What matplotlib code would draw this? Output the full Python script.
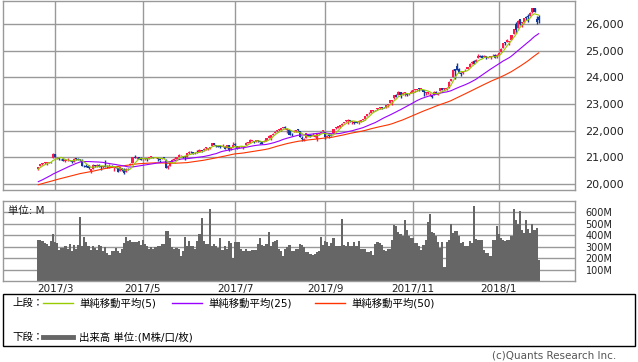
import matplotlib
matplotlib.use("Agg")
import matplotlib.pyplot as plt
from matplotlib.lines import Line2D
from matplotlib.patches import Rectangle
import numpy as np
import pandas as pd

plt.rcParams['font.family'] = ['DejaVu Sans', 'Noto Sans CJK JP']

# closes before the first shown day (Dec 5 2016 - Feb 16 2017), only for the moving averages
pre_closes = [
    19216, 19252, 19549, 19615, 19757, 19797, 19912, 19792, 19852, 19843,
    19884, 19975, 19942, 19919, 19934, 19946, 19833, 19819, 19763,
    19882, 19942, 19900, 19964, 19887, 19855, 19954, 19891, 19886, 19826,
    19804, 19732, 19827, 19799, 19913, 20069, 20101, 20094, 19971, 19864,
    19891, 19885, 20071, 20052, 20090, 20054, 20172, 20269, 20413, 20504,
    20612, 20619,
]

# daily OHLC, 2017-02-17 .. 2018-01-31 (one line per month)
opens = [
    20564, 20662, 20749, 20786, 20778, 20790, 20834,
    20957, 21114, 20999, 20962, 20946, 20936, 20853, 20888, 20897, 20858, 20842, 20963, 20934, 20919, 20913, 20668, 20673, 20669, 20485, 20555, 20697, 20663, 20713,
    20665, 20631, 20681, 20667, 20618, 20665, 20620, 20650, 20590, 20480, 20611, 20547, 20455, 20579, 20725, 20801, 20990, 20968, 20995,
    20962, 20923, 20931, 20962, 20966, 21008, 21003, 20970, 20992, 20913, 20934, 20995, 20908, 20596, 20681, 20814, 20908, 20941, 21018, 21074, 21049, 21020,
    21030, 21147, 21212, 21182, 21151, 21192, 21190, 21258, 21262, 21346, 21311, 21356, 21412, 21522, 21467, 21413, 21416, 21401, 21403, 21340, 21448, 21308,
    21392, 21481, 21437, 21334, 21413, 21398, 21460, 21532, 21544, 21629, 21591, 21582, 21654, 21585, 21577, 21580, 21628, 21730, 21717, 21843,
    21923, 21988, 22019, 22027, 22101, 22121, 22028, 22023, 21875, 21947, 21995, 22032, 21992, 21730, 21667, 21727, 21843, 21824, 21809, 21767, 21704, 21864, 21907,
    21981, 21961, 21774, 21825, 21813, 21916, 22082, 22118, 22136, 22209, 22280, 22355, 22359, 22389, 22337, 22319, 22310, 22319, 22340, 22392,
    22423, 22564, 22644, 22672, 22742, 22773, 22797, 22837, 22864, 22883, 22866, 22977, 23040, 23095, 23226, 23328, 23355, 23436, 23380, 23413, 23385, 23361,
    23421, 23428, 23530, 23543, 23567, 23556, 23514, 23406, 23401, 23397, 23348, 23338, 23454, 23353, 23475, 23590, 23555, 23560, 23600, 23850, 24010,
    24305, 24424, 24324, 24150, 24149, 24300, 24329, 24403, 24520, 24608, 24557, 24708, 24811, 24809, 24743, 24772, 24727, 24753, 24822, 24849,
    24809, 24850, 24964, 25114, 25308, 25312, 25309, 25405, 25638, 25987, 25850, 26181, 26019, 26074, 26264, 26271, 26295, 26438, 26584, 26198, 26268,
]
highs = [
    20624, 20758, 20801, 20841, 20822, 20838, 20837,
    21169, 21113, 21025, 20980, 20956, 20958, 20907, 20966, 20918, 20863, 20981, 20985, 20957, 20935, 20944, 20706, 20747, 20720, 20573, 20757, 20731, 20734, 20732,
    20689, 20689, 20887, 20728, 20750, 20730, 20651, 20652, 20617, 20636, 20611, 20592, 20605, 20584, 20790, 21006, 21070, 21008, 20995,
    20994, 20950, 20965, 20978, 21007, 21054, 21003, 21012, 20992, 20913, 20982, 21022, 20921, 20724, 20849, 20941, 20975, 21012, 21112, 21098, 21049, 21035,
    21144, 21225, 21225, 21182, 21188, 21265, 21305, 21276, 21337, 21391, 21360, 21385, 21535, 21526, 21467, 21440, 21434, 21489, 21434, 21460, 21455, 21393,
    21562, 21520, 21437, 21423, 21436, 21415, 21581, 21583, 21681, 21645, 21594, 21641, 21655, 21585, 21597, 21653, 21711, 21843, 21830, 21925,
    21990, 22036, 22045, 22093, 22121, 22180, 22053, 22023, 21916, 22007, 22011, 22077, 21992, 21807, 21727, 21910, 21858, 21884, 21900, 21849, 21873, 21927, 21955,
    22024, 21961, 21840, 21829, 21869, 22066, 22123, 22170, 22206, 22271, 22338, 22382, 22419, 22396, 22365, 22358, 22339, 22398, 22381, 22414,
    22557, 22641, 22686, 22777, 22776, 22793, 22858, 22872, 22878, 22905, 22961, 22997, 23158, 23164, 23329, 23368, 23485, 23436, 23439, 23451, 23412, 23401,
    23517, 23531, 23539, 23562, 23602, 23570, 23514, 23465, 23450, 23421, 23348, 23472, 23472, 23440, 23617, 23604, 23602, 23638, 23875, 23940, 24328,
    24305, 24534, 24367, 24198, 24245, 24330, 24388, 24552, 24622, 24649, 24691, 24876, 24839, 24852, 24850, 24785, 24778, 24798, 24876, 24871,
    24864, 24942, 25106, 25296, 25311, 25436, 25369, 25575, 25804, 26086, 26154, 26153, 26076, 26215, 26298, 26392, 26458, 26617, 26609, 26286, 26338,
]
lows = [
    20532, 20662, 20720, 20753, 20728, 20771, 20785,
    20957, 21002, 20951, 20905, 20900, 20855, 20834, 20880, 20853, 20785, 20837, 20918, 20914, 20879, 20659, 20622, 20645, 20580, 20413, 20555, 20645, 20654, 20645,
    20514, 20598, 20633, 20617, 20618, 20640, 20506, 20590, 20453, 20480, 20486, 20379, 20455, 20511, 20725, 20801, 20975, 20935, 20941,
    20884, 20898, 20904, 20862, 20951, 20979, 20957, 20958, 20852, 20839, 20922, 20958, 20606, 20553, 20681, 20814, 20884, 20919, 21018, 21048, 20979, 20898,
    21027, 21124, 21174, 21120, 21119, 21163, 21190, 21206, 21240, 21293, 21256, 21326, 21412, 21466, 21373, 21379, 21340, 21390, 21294, 21332, 21236, 21293,
    21392, 21422, 21305, 21334, 21385, 21305, 21460, 21525, 21544, 21608, 21537, 21582, 21567, 21515, 21510, 21580, 21628, 21715, 21663, 21843,
    21923, 21942, 21984, 22003, 22085, 22080, 21902, 21844, 21807, 21947, 21940, 21997, 21750, 21600, 21601, 21727, 21791, 21769, 21796, 21767, 21614, 21825, 21894,
    21948, 21696, 21774, 21720, 21785, 21916, 22059, 22109, 22113, 22167, 22280, 22338, 22253, 22340, 22268, 22261, 22270, 22268, 22316, 22371,
    22405, 22564, 22627, 22672, 22707, 22751, 22785, 22809, 22812, 22845, 22863, 22902, 23040, 22956, 23181, 23258, 23355, 23222, 23346, 23289, 23315, 23346,
    23421, 23428, 23463, 23505, 23505, 23506, 23297, 23342, 23393, 23290, 23243, 23338, 23358, 23353, 23475, 23525, 23537, 23535, 23589, 23850, 24010,
    23921, 24256, 24178, 24047, 24116, 24249, 24299, 24403, 24501, 24508, 24557, 24708, 24751, 24713, 24743, 24703, 24717, 24702, 24781, 24719,
    24742, 24825, 24963, 25113, 25205, 25311, 25198, 25405, 25638, 25657, 25850, 25943, 25881, 26034, 26140, 26091, 26295, 26423, 26435, 25997, 26034,
]
closes = [
    20624, 20743, 20775, 20810, 20821, 20837, 20812,
    21115, 21002, 21005, 20954, 20924, 20855, 20858, 20902, 20881, 20837, 20950, 20934, 20914, 20905, 20668, 20661, 20656, 20597, 20550, 20701, 20659, 20728, 20663,
    20650, 20689, 20648, 20662, 20656, 20658, 20651, 20591, 20453, 20636, 20523, 20404, 20578, 20548, 20763, 20996, 20975, 20981, 20941,
    20913, 20950, 20957, 20951, 21007, 21013, 20975, 21012, 20919, 20896, 20982, 20980, 20607, 20663, 20805, 20895, 20937, 21012, 21083, 21080, 21029, 21009,
    21144, 21206, 21184, 21136, 21174, 21182, 21272, 21236, 21329, 21375, 21360, 21384, 21528, 21468, 21410, 21397, 21395, 21409, 21311, 21454, 21288, 21350,
    21479, 21478, 21320, 21414, 21409, 21409, 21532, 21553, 21638, 21630, 21574, 21641, 21611, 21580, 21513, 21613, 21711, 21797, 21830, 21891,
    21963, 22016, 22026, 22093, 22118, 22085, 22049, 21844, 21858, 21993, 21998, 22025, 21750, 21675, 21704, 21899, 21812, 21783, 21814, 21809, 21865, 21892, 21948,
    21988, 21753, 21807, 21784, 21798, 22057, 22119, 22158, 22203, 22268, 22332, 22370, 22412, 22359, 22350, 22296, 22284, 22341, 22381, 22405,
    22557, 22641, 22661, 22775, 22773, 22761, 22831, 22872, 22841, 22871, 22957, 22997, 23158, 23163, 23329, 23273, 23441, 23329, 23401, 23434, 23349, 23377,
    23436, 23517, 23539, 23548, 23557, 23563, 23461, 23422, 23440, 23409, 23272, 23458, 23358, 23430, 23590, 23526, 23558, 23580, 23836, 23940, 24272,
    24231, 24290, 24180, 24140, 24211, 24329, 24387, 24504, 24585, 24509, 24652, 24792, 24754, 24726, 24782, 24754, 24746, 24775, 24838, 24719,
    24824, 24922, 25075, 25295, 25283, 25385, 25369, 25574, 25803, 25792, 26116, 26017, 26071, 26214, 26211, 26252, 26393, 26617, 26439, 26076, 26149,
]

# volume in millions
volumes = [
    355, 355, 347, 332, 323, 309, 347, 409, 338, 332,
    274, 288, 288, 303, 279, 324, 259, 318, 279, 318,
    559, 303, 382, 338, 309, 274, 303, 288, 274, 318,
    303, 259, 297, 244, 229, 265, 259, 288, 259, 244,
    279, 332, 385, 347, 362, 338, 338, 338,
    347, 318, 355, 326, 303, 279, 294, 279, 294, 303,
    303, 326, 326, 441, 441, 376, 297, 279, 288, 279,
    220, 259, 385, 303, 347, 303, 303, 279, 347, 412,
    547, 347, 326, 326, 626, 303, 326, 303, 288, 376,
    274, 303, 279, 353, 332, 200, 338, 338, 338,
    279, 259, 279, 259, 259, 268, 268, 274, 324, 376,
    318, 303, 324, 426, 303, 341, 347, 356, 279, 265,
    220, 279, 294, 318, 259, 259, 279, 279, 326, 318,
    294, 253, 253, 238, 229, 238, 253, 259, 385, 318,
    347, 341, 303, 332, 376, 309, 303, 303,
    544, 318, 303, 341, 303, 303, 341, 303, 350, 279,
    279, 279, 250, 250, 259, 229, 326, 338, 332, 318,
    274, 259, 279, 279, 362, 494, 479, 426, 412, 391,
    538, 450, 391, 376, 376, 332, 332, 309, 274, 318,
    362, 515, 582, 426, 420, 397, 338, 288,
    338, 125, 338, 362, 503, 420, 435, 441, 391, 332,
    338, 309, 309, 353, 332, 656, 371, 356, 356, 356,
    274, 244, 244, 220, 356, 362, 479, 412, 376, 362,
    347, 362, 362, 391, 626, 538, 503, 612, 450, 420,
    538, 456, 420, 503, 444, 465, 180,
]

holidays = ["2017-04-14", "2017-05-29", "2017-07-04", "2017-09-04",
            "2017-11-23", "2017-12-25", "2018-01-01", "2018-01-15"]
dates = pd.bdate_range("2017-02-17", "2018-01-31", freq="C", holidays=holidays)
tick_months = [(2017, 3), (2017, 5), (2017, 7), (2017, 9), (2017, 11), (2018, 1)]

RED = "#ff1a4d"
BLUE = "#13399c"
C_MA5 = "#99cc00"
C_MA25 = "#9900ff"
C_MA50 = "#ff3300"
GRID = "#999999"

n = len(closes)
x = np.arange(n)
o = np.array(opens)
h = np.array(highs)
l = np.array(lows)
c = np.array(closes)

allc = pd.Series(pre_closes + closes, dtype=float)
ma5 = allc.rolling(5).mean().values[-n:]
ma25 = allc.rolling(25).mean().values[-n:]
ma50 = allc.rolling(50).mean().values[-n:]

ticks = []
labels = []
for yy, mm in tick_months:
    idx = np.where((dates.year == yy) & (dates.month == mm))[0][0]
    ticks.append(idx)
    labels.append(f"{yy}/{mm}")

W, H = 638, 362
fig = plt.figure(figsize=(W / 100, H / 100), dpi=100)


def box(x0, y0, x1, y1):
    return [x0 / W, 1 - y1 / H, (x1 - x0) / W, (y1 - y0) / H]


ax = fig.add_axes(box(3.3, 0.5, 574.5, 190))
axv = fig.add_axes(box(3.3, 201, 574.5, 281))

# price panel
up = c >= o
col = np.where(up, RED, BLUE)
ax.vlines(x, l, h, colors=col, lw=1.0, zorder=3)
body = np.maximum(np.abs(c - o), 30)
ax.bar(x, body, bottom=np.minimum(o, c), width=1.0, color=col, lw=0, zorder=3)
ax.plot(x, ma50, color=C_MA50, lw=0.8, zorder=4)
ax.plot(x, ma25, color=C_MA25, lw=0.8, zorder=4)
ax.plot(x, ma5, color=C_MA5, lw=0.8, zorder=5)

for a in (ax, axv):
    a.set_xlim(-16.7, 256.1)
    a.set_xticks(ticks)
    a.grid(True, color=GRID, lw=1)
    a.set_axisbelow(True)
    for s in a.spines.values():
        s.set_color(GRID)
        s.set_linewidth(1)
    a.yaxis.tick_right()
    a.tick_params(length=0, colors="#222222")

ax.set_ylim(19775, 26880)
ax.set_yticks(range(20000, 26001, 1000))
ax.set_yticklabels([f"{v:,}" for v in range(20000, 26001, 1000)], fontsize=8)
ax.tick_params(axis="y", pad=8)
ax.set_xticklabels([])

# volume panel
axv.bar(x, volumes, width=1.0, color="#666666", lw=0)
axv.set_ylim(0, 700)
axv.set_yticks(range(100, 601, 100))
axv.set_yticklabels([f"{v}M" for v in range(100, 601, 100)], fontsize=7)
axv.tick_params(axis="y", pad=8)
axv.set_xticklabels(labels, fontsize=7.5)
axv.tick_params(axis="x", pad=2)
axv.text(5 / 572, 0.88, "単位: M", transform=axv.transAxes, fontsize=7.5,
         ha="left", va="center", color="#222222")

# legend box
fig.patches.append(Rectangle((3 / W, 1 - 346 / H), 632 / W, 52 / H,
                             transform=fig.transFigure, fill=False,
                             ec="black", lw=1))


def fy(py):
    return 1 - py / H


legend_rows = [
    (303, "上段：", [(43, C_MA5, 1, "単純移動平均(5)"),
                   (172, C_MA25, 1, "単純移動平均(25)"),
                   (315, C_MA50, 1, "単純移動平均(50)")]),
    (337, "下段：", [(43, "#666666", 3.5, "出来高 単位:(M株/口/枚)")]),
]
for py, head, items in legend_rows:
    fig.text(12 / W, fy(py), head, fontsize=7.5, va="center", ha="left")
    for px, color, lw, label in items:
        fig.add_artist(Line2D([px / W, (px + 30) / W], [fy(py), fy(py)],
                              transform=fig.transFigure, color=color, lw=lw))
        fig.text((px + 36) / W, fy(py), label, fontsize=7.5, va="center", ha="left")

fig.text(616 / W, fy(356), "(c)Quants Research Inc.", fontsize=7.5,
         ha="right", va="center", color="#555555")

fig.savefig("out.png", dpi=100)
